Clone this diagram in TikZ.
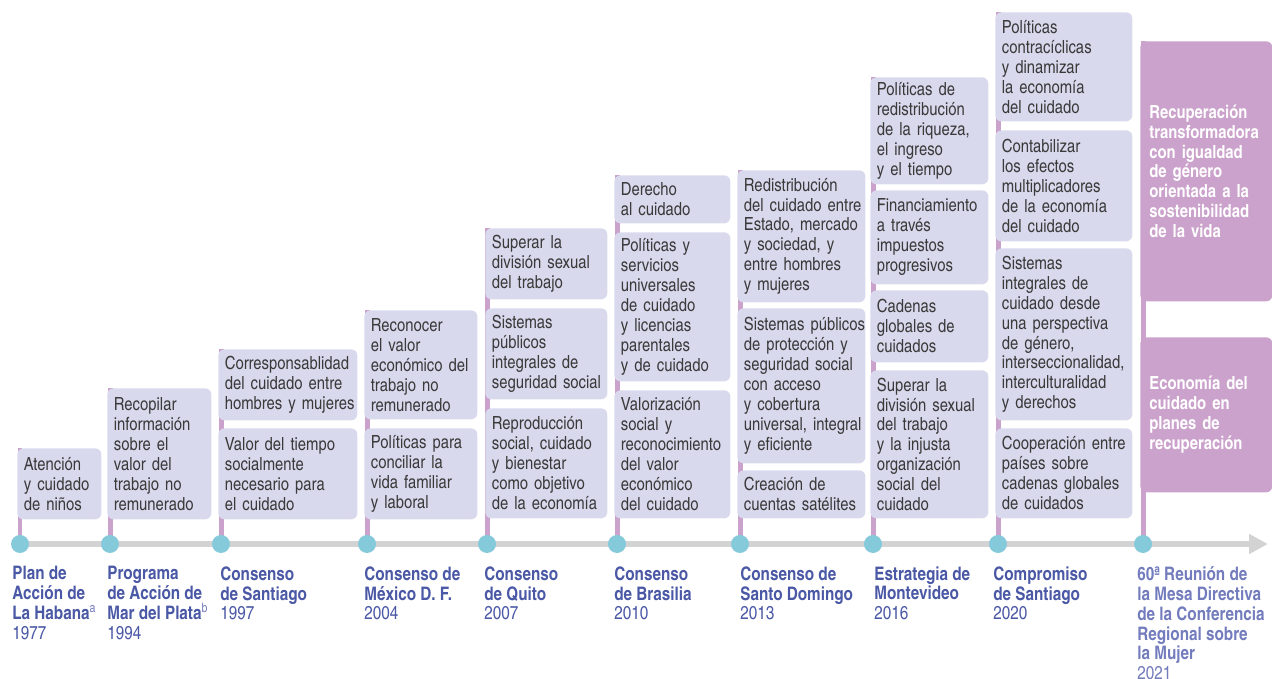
\documentclass[tikz,border=0pt]{standalone}
\usepackage{fontspec}
\setmainfont{texgyreheroscn}[Extension=.otf,UprightFont=*-regular,BoldFont=*-bold,ItalicFont=*-italic,BoldItalicFont=*-bolditalic]
\usetikzlibrary{arrows.meta,backgrounds}
\definecolor{lila}{HTML}{D9D9EE}
\definecolor{tinta}{HTML}{3A3A3A}
\definecolor{rosa}{HTML}{CBA2CB}
\definecolor{turquesa}{HTML}{85CADA}
\definecolor{gris}{HTML}{D3D3D3}
\definecolor{azul}{HTML}{4A58A5}
\definecolor{azulclaro}{HTML}{737CBD}
\hyphenpenalty=10000

\begin{document}
\begin{tikzpicture}[x=0.02cm,y=-0.02cm,
  cuadro/.style={fill=lila,rounded corners=3.5pt,anchor=north west,align=left,
    inner xsep=0.13cm,inner ysep=0.06cm,text=tinta,
    font=\fontsize{10.3}{11.34}\selectfont},
  meta/.style={fill=rosa,rounded corners=3.5pt,anchor=north west,align=left,
    inner xsep=0.18cm,inner ysep=0.06cm,text=white,text width=2.28cm,
    font=\bfseries\fontsize{10.3}{11.34}\selectfont},
  hito/.style={circle,fill=turquesa,minimum size=0.36cm,inner sep=0pt},
  tallo/.style={rosa,line width=0.1cm},
  eje/.style={gris,line width=0.13cm,-{Triangle[length=0.38cm,width=0.38cm]}},
  rotulo/.style={anchor=north west,align=left,inner sep=0pt,text=azul,
    font=\bfseries\fontsize{10.6}{11.34}\selectfont}]
\useasboundingbox (0,0) rectangle (1272,679);

% hitos sobre la linea de tiempo
\node[hito] (h1) at (20,544) {};
\node[hito] (h2) at (110,544) {};
\node[hito] (h3) at (221,544) {};
\node[hito] (h4) at (367,544) {};
\node[hito] (h5) at (487,544) {};
\node[hito] (h6) at (617,544) {};
\node[hito] (h7) at (740,544) {};
\node[hito] (h8) at (873,544) {};
\node[hito] (h9) at (998,544) {};
\node[hito] (h10) at (1143,544) {};
\coordinate (fin) at (1268,544);

% 1977
\node[cuadro,text width=1.42cm,minimum height=1.42cm] (b1a) at (17,448) {Atención\\y cuidado\\de niños};
% 1994
\node[cuadro,text width=1.82cm,minimum height=2.62cm] (b2a) at (107,388) {Recopilar\\información\\sobre el\\valor del\\trabajo no\\remunerado};
% 1997
\node[cuadro,text width=2.52cm,minimum height=1.42cm] (b3a) at (218,349) {Corresponsablidad\\del cuidado entre\\hombres~y~mujeres};
\node[cuadro,text width=2.52cm,minimum height=1.82cm] (b3b) at (218,428) {Valor del tiempo\\socialmente\\necesario para\\el cuidado};
% 2004
\node[cuadro,text width=2cm,minimum height=2.18cm] (b4a) at (364,310) {Reconocer\\el valor\\económico~del\\trabajo no\\remunerado};
\node[cuadro,text width=2cm,minimum height=1.82cm] (b4b) at (364,428) {Políticas~para\\conciliar la\\vida~familiar\\y laboral};
% 2007
\node[cuadro,text width=2.18cm,minimum height=1.42cm] (b5a) at (485,228) {Superar la\\división~sexual\\del trabajo};
\node[cuadro,text width=2.18cm,minimum height=1.82cm] (b5b) at (485,308) {Sistemas\\públicos\\integrales de\\seguridad~social};
\node[cuadro,text width=2.18cm,minimum height=2.2cm] (b5c) at (485,408) {Reproducción\\social,~cuidado\\y bienestar\\como~objetivo\\de~la~economía};
% 2010
\node[cuadro,text width=2.06cm,minimum height=0.96cm] (b6a) at (614,175) {Derecho\\al cuidado};
\node[cuadro,text width=2.06cm,minimum height=2.98cm] (b6b) at (614,232) {Políticas y\\servicios\\universales\\de cuidado\\y licencias\\parentales\\y~de~cuidado};
\node[cuadro,text width=2.06cm,minimum height=2.56cm] (b6c) at (614,390) {Valorización\\social y\\reconocimiento\\del valor\\económico\\del cuidado};
% 2013
\node[cuadro,text width=2.3cm,minimum height=2.64cm] (b7a) at (737,170) {Redistribución\\del~cuidado~entre\\Estado,~mercado\\y sociedad, y\\entre~hombres\\y mujeres};
\node[cuadro,text width=2.3cm,minimum height=3.1cm] (b7b) at (737,308) {Sistemas~públicos\\de~protección~y\\seguridad~social\\con acceso\\y cobertura\\universal,~integral\\y eficiente};
\node[cuadro,text width=2.3cm,minimum height=0.96cm] (b7c) at (737,470) {Creación de\\cuentas~satélites};
% 2016
\node[cuadro,text width=2.1cm,minimum height=2.14cm] (b8a) at (870,77) {Políticas de\\redistribución\\de~la~riqueza,\\el ingreso\\y el tiempo};
\node[cuadro,text width=2.1cm,minimum height=1.88cm] (b8b) at (870,190) {Financiamiento\\a través\\impuestos\\progresivos};
\node[cuadro,text width=2.1cm,minimum height=1.44cm] (b8c) at (870,290) {Cadenas\\globales de\\cuidados};
\node[cuadro,text width=2.1cm,minimum height=2.96cm] (b8d) at (870,370) {Superar la\\división~sexual\\del trabajo\\y la injusta\\organización\\social del\\cuidado};
% 2020
\node[cuadro,text width=2.48cm,minimum height=2.18cm] (b9a) at (995,12) {Políticas\\contracíclicas\\y dinamizar\\la economía\\del cuidado};
\node[cuadro,text width=2.48cm,minimum height=2.22cm] (b9b) at (995,130) {Contabilizar\\los efectos\\multiplicadores\\de~la~economía\\del cuidado};
\node[cuadro,text width=2.48cm,minimum height=3.44cm] (b9c) at (995,248) {Sistemas\\integrales de\\cuidado desde\\una~perspectiva\\de género,\\interseccionalidad,\\interculturalidad\\y derechos};
\node[cuadro,text width=2.48cm,minimum height=1.8cm] (b9d) at (995,428) {Cooperación~entre\\países sobre\\cadenas~globales\\de cuidados};
% 2021
\node[meta,minimum height=5.2cm] (b10a) at (1140,41) {Recuperación\\transformadora\\con igualdad\\de género\\orientada~a~la\\sostenibilidad\\de la vida};
\node[meta,minimum height=3.1cm] (b10b) at (1140,337) {Economía~del\\cuidado en\\planes de\\recuperación};

\begin{pgfonlayer}{background}
\draw[eje] (h1.center) -- (fin);
\draw[tallo] (h1.center) -- (h1 |- b1a.north);
\draw[tallo] (h2.center) -- (h2 |- b2a.north);
\draw[tallo] (h3.center) -- (h3 |- b3a.north);
\draw[tallo] (h4.center) -- (h4 |- b4a.north);
\draw[tallo] (h5.center) -- (h5 |- b5a.north);
\draw[tallo] (h6.center) -- (h6 |- b6a.north);
\draw[tallo] (h7.center) -- (h7 |- b7a.north);
\draw[tallo] (h8.center) -- (h8 |- b8a.north);
\draw[tallo] (h9.center) -- (h9 |- b9a.north);
\draw[tallo] (h10.center) -- (h10 |- b10a.north);
\end{pgfonlayer}

% rotulos
\node[rotulo] (l1) at (12,566) {Plan de\\Acción de\\La Habana\textsuperscript{\mdseries\color{azulclaro}a}\\\mdseries 1977};
\node[rotulo] (l2) at (107,566) {Programa\\de Acción de\\Mar del Plata\textsuperscript{\mdseries\color{azulclaro}b}\\\mdseries 1994};
\node[rotulo] (l3) at (220,566) {Consenso\\de Santiago\\\mdseries 1997};
\node[rotulo] (l4) at (364,566) {Consenso de\\México D. F.\\\mdseries 2004};
\node[rotulo] (l5) at (484,566) {Consenso\\de Quito\\\mdseries 2007};
\node[rotulo] (l6) at (614,566) {Consenso\\de Brasilia\\\mdseries 2010};
\node[rotulo] (l7) at (740,566) {Consenso de\\Santo Domingo\\\mdseries 2013};
\node[rotulo] (l8) at (874,566) {Estrategia de\\Montevideo\\\mdseries 2016};
\node[rotulo] (l9) at (993,566) {Compromiso\\de Santiago\\\mdseries 2020};
\node[rotulo,text=azulclaro] (l10) at (1137,566) {60ª Reunión de\\la Mesa Directiva\\de la Conferencia\\Regional sobre\\la Mujer\\\mdseries 2021};
\end{tikzpicture}
\end{document}
